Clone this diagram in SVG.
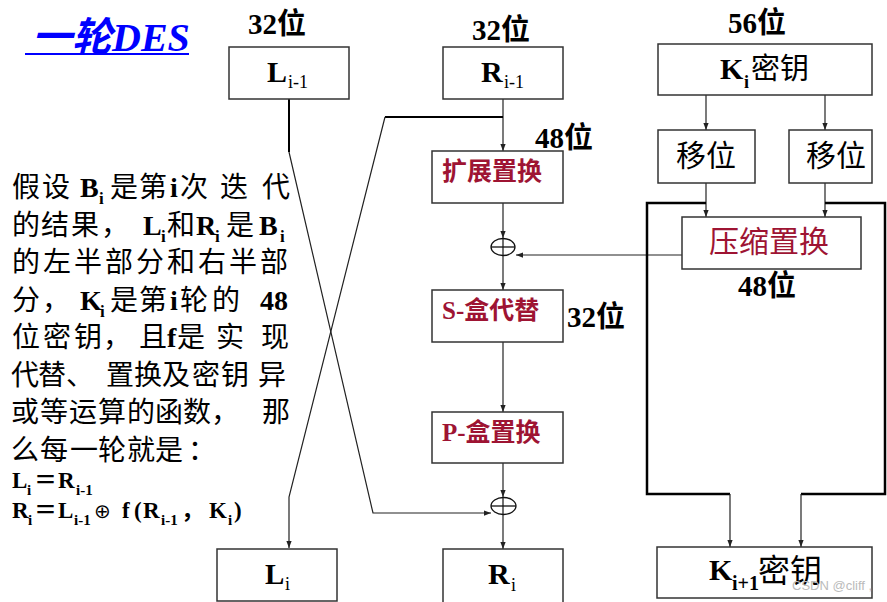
<svg xmlns="http://www.w3.org/2000/svg" width="887" height="602" viewBox="0 0 887 602">
<style>
.box{fill:#fff;stroke:#333;stroke-width:1.5}
.ln{fill:none;stroke:#222;stroke-width:1.2}
.thk{fill:none;stroke:#000;stroke-width:2.5}
.mid{fill:none;stroke:#000;stroke-width:2}
.t{font-family:'Liberation Serif','Noto Sans CJK SC',serif;fill:#000}
.cj{font-family:'Noto Sans CJK SC',sans-serif}
.b{font-weight:bold}
.red{fill:#9e1433}
.lbl{font-family:'Liberation Serif','Noto Sans CJK SC',serif;font-weight:bold;font-size:29px;fill:#000}
.para{font-family:'Noto Sans CJK SC',sans-serif;font-size:28px;fill:#000}
.lat{font-family:'Liberation Serif',serif;font-weight:bold}
.sub{font-size:17px}
</style>
<defs>
<marker id="ah" viewBox="0 0 8 8" refX="8" refY="4" markerWidth="7" markerHeight="7" markerUnits="userSpaceOnUse" orient="auto"><path d="M0,1 L8,4 L0,7 z" fill="#222"/></marker>
</defs>

<g id="title">
<text x="32" y="51" font-family="'Liberation Serif','Noto Sans CJK SC',serif" font-size="40" font-weight="bold" font-style="italic" fill="#0000ff">一轮DES</text>
<line x1="25" y1="54" x2="189" y2="54" stroke="#0000ff" stroke-width="2"/>
</g>

<g id="labels">
<text class="lbl" x="248" y="34">32<tspan class="cj">位</tspan></text>
<text class="lbl" x="472" y="40">32<tspan class="cj">位</tspan></text>
<text class="lbl" x="728" y="33">56<tspan class="cj">位</tspan></text>
<text class="lbl" x="535" y="148">48<tspan class="cj">位</tspan></text>
<text class="lbl" x="738" y="296">48<tspan class="cj">位</tspan></text>
<text class="lbl" x="567" y="327">32<tspan class="cj">位</tspan></text>
</g>

<g id="connectors">
<path class="ln" d="M503,99 V151" marker-end="url(#ah)"/>
<path class="mid" d="M503,117 H385"/>
<path class="ln" d="M385,117 L289,497 V548" marker-end="url(#ah)"/>
<path class="mid" d="M289,99 V152"/>
<path class="ln" d="M289,152 L373,513 H491" marker-end="url(#ah)"/>
<path class="ln" d="M503,203 V238" marker-end="url(#ah)"/>
<path class="ln" d="M503,256 V290" marker-end="url(#ah)"/>
<path class="ln" d="M682,255 H516" marker-end="url(#ah)"/>
<path class="ln" d="M503,342 V412" marker-end="url(#ah)"/>
<path class="ln" d="M503,463 V497" marker-end="url(#ah)"/>
<path class="ln" d="M503,515 V549" marker-end="url(#ah)"/>
<path class="ln" d="M706,95 V130" marker-end="url(#ah)"/>
<path class="ln" d="M825,95 V130" marker-end="url(#ah)"/>
<path class="ln" d="M706,183 V217" marker-end="url(#ah)"/>
<path class="ln" d="M825,183 V217" marker-end="url(#ah)"/>
<path class="thk" d="M706,203 H647 V494 H730"/>
<path class="ln" d="M730,494 V547" marker-end="url(#ah)"/>
<path class="thk" d="M825,203 H885 V494 H801"/>
<path class="ln" d="M801,494 V547" marker-end="url(#ah)"/>
</g>

<g id="xor1">
<ellipse cx="503" cy="247" rx="12" ry="8.5" fill="none" stroke="#111" stroke-width="1.3"/>
<line x1="491" y1="247" x2="515" y2="247" stroke="#111" stroke-width="1.3"/>
<line x1="503" y1="238.5" x2="503" y2="255.5" stroke="#111" stroke-width="1.2"/>
</g>
<g id="xor2">
<ellipse cx="503.5" cy="506" rx="12.5" ry="8.5" fill="none" stroke="#111" stroke-width="1.3"/>
<line x1="491" y1="506" x2="516" y2="506" stroke="#111" stroke-width="1.3"/>
<line x1="503" y1="497.5" x2="503" y2="514.5" stroke="#111" stroke-width="1.2"/>
</g>

<g id="L_prev">
<rect class="box" x="229" y="47" width="120" height="52"/>
<text class="t" x="267" y="82" font-size="30" font-weight="bold">L</text>
<text class="t" x="288" y="88" font-size="18">i-1</text>
</g>
<g id="R_prev">
<rect class="box" x="443" y="47" width="120" height="52"/>
<text class="t" x="481" y="82" font-size="30" font-weight="bold">R</text>
<text class="t" x="504" y="88" font-size="18">i-1</text>
</g>
<g id="K_i">
<rect class="box" x="658" y="44" width="214" height="51"/>
<text class="t" x="720" y="79" font-size="30" font-weight="bold">K</text>
<text class="t" x="744" y="88" font-size="18" font-weight="bold">i</text>
<text class="cj" x="751" y="79" font-size="29">密钥</text>
</g>
<g id="shift1">
<rect class="box" x="658" y="130" width="97" height="53"/>
<text class="cj" x="676" y="166" font-size="30">移位</text>
</g>
<g id="shift2">
<rect class="box" x="789" y="130" width="83" height="53"/>
<text class="cj" x="806" y="166" font-size="30">移位</text>
</g>
<g id="expand">
<rect class="box" x="432" y="151" width="131" height="52"/>
<text class="cj red" x="442" y="180" font-size="25" font-weight="bold">扩展置换</text>
</g>
<g id="compress">
<rect class="box" x="682" y="217" width="179" height="52"/>
<text class="cj red" x="709" y="252" font-size="30">压缩置换</text>
</g>
<g id="sbox">
<rect class="box" x="432" y="290" width="131" height="52"/>
<text class="t red" x="442" y="319" font-size="25" font-weight="bold">S-<tspan class="cj">盒代替</tspan></text>
</g>
<g id="pbox">
<rect class="box" x="432" y="412" width="131" height="51"/>
<text class="t red" x="442" y="441" font-size="25" font-weight="bold">P-<tspan class="cj">盒置换</tspan></text>
</g>
<g id="L_i">
<rect class="box" x="217" y="549" width="120" height="52"/>
<text class="t" x="265" y="584" font-size="29" font-weight="bold">L</text>
<text class="t" x="285" y="590" font-size="18">i</text>
</g>
<g id="R_i">
<rect class="box" x="443" y="549" width="120" height="56"/>
<text class="t" x="488" y="584" font-size="30" font-weight="bold">R</text>
<text class="t" x="511" y="591" font-size="18">i</text>
</g>
<g id="K_next">
<rect class="box" x="657" y="547" width="215" height="51"/>
<text class="t" x="709" y="580" font-size="30" font-weight="bold">K</text>
<text class="t" x="732" y="590" font-size="20" font-weight="bold">i+1</text>
<text class="cj" x="758" y="582" font-size="32">密钥</text>
</g>

<g id="description">
<text class="para" y="197"><tspan x="12">假</tspan><tspan x="42">设</tspan><tspan class="lat" x="80">B</tspan><tspan class="lat sub" x="99" y="204">i</tspan><tspan x="110" y="197">是</tspan><tspan x="139">第</tspan><tspan class="lat" x="170">i</tspan><tspan x="180">次</tspan><tspan x="220">迭</tspan><tspan x="262">代</tspan></text>
<text class="para" y="234.5"><tspan x="12">的</tspan><tspan x="41">结</tspan><tspan x="71">果</tspan><tspan x="101">，</tspan><tspan class="lat" x="143">L</tspan><tspan class="lat sub" x="161" y="241.5">i</tspan><tspan x="167" y="234.5">和</tspan><tspan class="lat" x="196">R</tspan><tspan class="lat sub" x="215" y="241.5">i</tspan><tspan x="226" y="234.5">是</tspan><tspan class="lat" x="259">B</tspan><tspan class="lat sub" x="280" y="241.5">i</tspan></text>
<text class="para" y="272"><tspan x="12">的</tspan><tspan x="43">左</tspan><tspan x="74">半</tspan><tspan x="105">部</tspan><tspan x="136">分</tspan><tspan x="167">和</tspan><tspan x="198">右</tspan><tspan x="229">半</tspan><tspan x="260">部</tspan></text>
<text class="para" y="309.5"><tspan x="12">分</tspan><tspan x="42">，</tspan><tspan class="lat" x="80">K</tspan><tspan class="lat sub" x="100" y="316.5">i</tspan><tspan x="110" y="309.5">是</tspan><tspan x="139">第</tspan><tspan class="lat" x="170">i</tspan><tspan x="180">轮</tspan><tspan x="212">的</tspan><tspan class="lat" x="260">48</tspan></text>
<text class="para" y="347"><tspan x="12">位</tspan><tspan x="43">密</tspan><tspan x="74">钥</tspan><tspan x="103">，</tspan><tspan x="139">且</tspan><tspan class="lat" x="167">f</tspan><tspan x="177">是</tspan><tspan x="216">实</tspan><tspan x="261">现</tspan></text>
<text class="para" y="384.5"><tspan x="11">代</tspan><tspan x="38">替</tspan><tspan x="66">、</tspan><tspan x="106">置</tspan><tspan x="134">换</tspan><tspan x="162">及</tspan><tspan x="192">密</tspan><tspan x="221">钥</tspan><tspan x="258">异</tspan></text>
<text class="para" y="422"><tspan x="11">或</tspan><tspan x="40">等</tspan><tspan x="69">运</tspan><tspan x="98">算</tspan><tspan x="127">的</tspan><tspan x="155">函</tspan><tspan x="183">数</tspan><tspan x="211">，</tspan><tspan x="262">那</tspan></text>
<text class="para" y="459.5"><tspan x="11">么</tspan><tspan x="40">每</tspan><tspan x="70">一</tspan><tspan x="98">轮</tspan><tspan x="127">就</tspan><tspan x="155">是</tspan><tspan x="188">：</tspan></text>
<text class="t b" y="488" font-size="23"><tspan x="12">L</tspan><tspan x="27" y="495" font-size="15">i</tspan><tspan class="cj" x="34" y="488">＝</tspan><tspan x="58">R</tspan><tspan x="76" y="495" font-size="15">i-1</tspan></text>
<text class="t b" y="518" font-size="23"><tspan x="12">R</tspan><tspan x="28" y="525" font-size="15">i</tspan><tspan class="cj" x="34" y="518">＝</tspan><tspan x="58">L</tspan><tspan x="74" y="525" font-size="15">i-1</tspan><tspan x="94" y="518" font-family="'DejaVu Sans',sans-serif" font-weight="normal" font-size="20">⊕</tspan><tspan x="122">f</tspan><tspan x="134">(</tspan><tspan x="143">R</tspan><tspan x="161" y="525" font-size="15">i-1</tspan><tspan class="cj" x="181" y="518">，</tspan><tspan x="209">K</tspan><tspan x="228" y="525" font-size="15">i</tspan><tspan x="234" y="518">)</tspan></text>
</g>

<text x="792" y="590" font-family="'Liberation Sans',sans-serif" font-size="13" fill="#bbb">CSDN @cliff ,</text>
</svg>
